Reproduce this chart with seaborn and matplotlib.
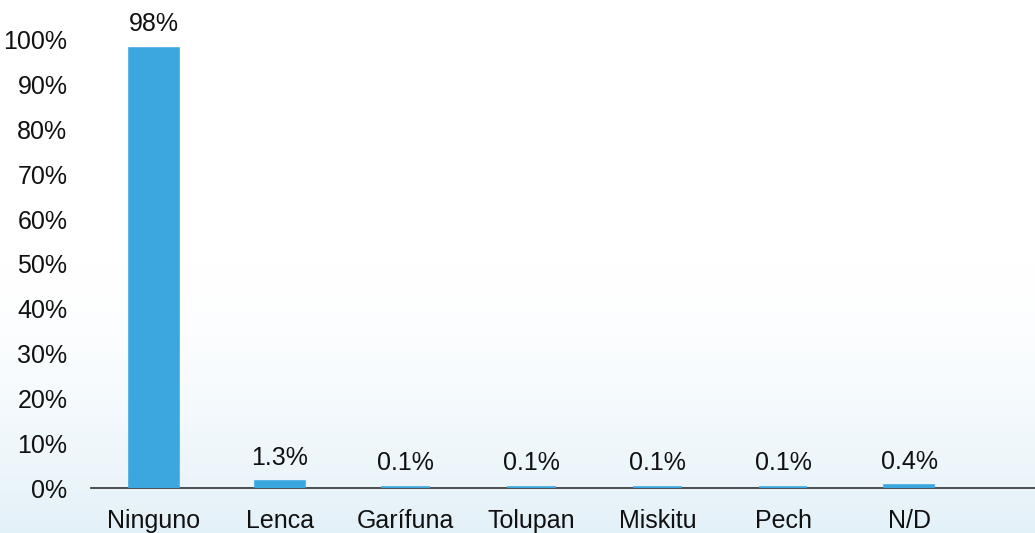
import numpy as np
import pandas as pd
import matplotlib
matplotlib.use("Agg")
import matplotlib.pyplot as plt
import seaborn as sns

categories = ["Ninguno", "Lenca", "Garífuna", "Tolupan", "Miskitu", "Pech", "N/D"]
values = [98, 1.3, 0.1, 0.1, 0.1, 0.1, 0.4]
value_labels = ["98%", "1.3%", "0.1%", "0.1%", "0.1%", "0.1%", "0.4%"]
y_ticks = list(range(0, 101, 10))
y_tick_labels = [f"{t}%" for t in y_ticks]

sns.set_style("white")
plt.rcParams["font.family"] = ["Liberation Sans", "DejaVu Sans"]

df = pd.DataFrame({"grupo": categories, "pct": values})

fig = plt.figure(figsize=(10.35, 5.33), dpi=100)

# soft light-blue wash towards the bottom of the slide
bg = fig.add_axes([0, 0, 1, 1], zorder=-10)
h = 400
t = np.linspace(0, 1, h)[:, None]
ramp = np.clip((t - 0.5) / 0.5, 0, 1) ** 1.5
top = np.array([1.0, 1.0, 1.0])
bottom = np.array([0.89, 0.945, 0.972])
img = top + ramp[..., None] * (bottom - top)
img = np.repeat(img, 4, axis=1)
bg.imshow(img, aspect="auto", extent=[0, 1, 0, 1], origin="upper")
bg.set_axis_off()

ax = fig.add_axes([91 / 1035, 1 - 488 / 533, 1 - 91 / 1035, 448 / 533])
ax.patch.set_alpha(0)

sns.barplot(data=df, x="grupo", y="pct", color="#3BA7DF", saturation=1,
            width=0.385, edgecolor="#3BA7DF", linewidth=2.6, ax=ax, zorder=4)

ax.bar_label(ax.containers[0], labels=value_labels, padding=9, fontsize=18, color="#111111")

ax.set_ylim(0, 100)
ax.set_xlim(-0.5, 7.0)
ax.set_yticks(y_ticks)
ax.set_yticklabels(y_tick_labels)
ax.set_xlabel("")
ax.set_ylabel("")
ax.tick_params(axis="y", length=0, pad=17, labelsize=18, labelcolor="#111111")
ax.tick_params(axis="x", length=0, pad=15, labelsize=18, labelcolor="#111111")

for side in ["top", "right", "left"]:
    ax.spines[side].set_visible(False)
ax.spines["bottom"].set_color("#404040")
ax.spines["bottom"].set_linewidth(1.3)
ax.spines["bottom"].set_zorder(2)

fig.savefig("out.png", dpi=100)
